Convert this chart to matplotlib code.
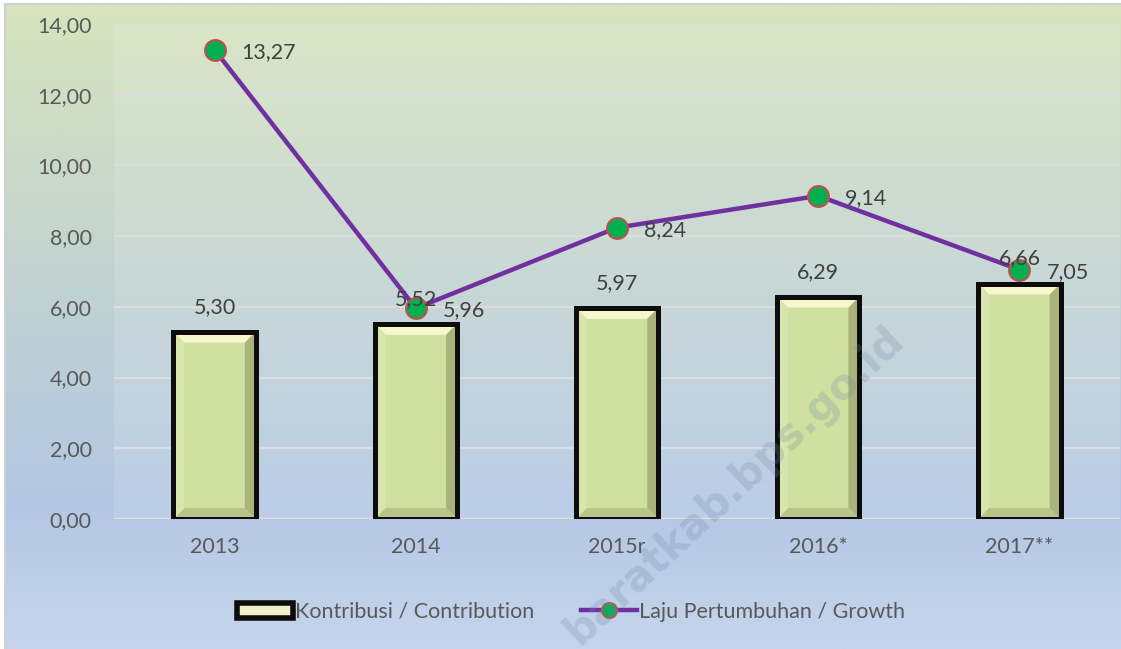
import matplotlib
matplotlib.use("Agg")
import matplotlib.pyplot as plt
import numpy as np
from matplotlib.patches import Polygon, Rectangle
from matplotlib.lines import Line2D
from matplotlib.colors import LinearSegmentedColormap

categories = ["2013", "2014", "2015r", "2016*", "2017**"]
kontribusi = [5.30, 5.52, 5.97, 6.29, 6.66]
laju = [13.27, 5.96, 8.24, 9.14, 7.05]
yticks = [0, 2, 4, 6, 8, 10, 12, 14]

W, H = 1121, 649
FS = 15.5
plt.rcParams['font.family'] = ['Lato', 'DejaVu Sans']
fig = plt.figure(figsize=(W / 100, H / 100), dpi=100)
fig.patch.set_facecolor('white')

# background gradient
bg = fig.add_axes([0, 0, 1, 1], zorder=-10)
bg.set_axis_off()
stops = [(0.0, (215/255, 228/255, 190/255)),
         (0.45, (192/255, 210/255, 210/255)),
         (0.78, (179/255, 199/255, 228/255)),
         (1.0, (198/255, 213/255, 236/255))]
cmap = LinearSegmentedColormap.from_list('bgc', stops)
grad = np.linspace(0, 1, 400).reshape(-1, 1)
bg.imshow(grad, aspect='auto', cmap=cmap, extent=[6/W, 1, 0, 1 - 4/H], origin='upper')
bg.set_xlim(0, 1)
bg.set_ylim(0, 1)
bg.add_patch(Rectangle((5/W, -0.01), 1.02, 1 - 3.5/H + 0.01, fill=False,
                       edgecolor='#d0d0d0', linewidth=1.5))

left, right = 114 / W, 1120 / W
bottom, top = (H - 519) / H, (H - 24) / H
ax = fig.add_axes([left, bottom, right - left, top - bottom])
ax.set_facecolor((1, 1, 1, 0.12))
for s in ax.spines.values():
    s.set_visible(False)

x = np.arange(len(categories))
ax.set_xlim(-0.5, len(categories) - 0.5)
ax.set_ylim(0, 14)
ax.set_yticks(yticks)
ax.set_yticklabels([f"{v:.2f}".replace('.', ',') for v in yticks])
ax.set_xticks(x)
ax.set_xticklabels(categories)
ax.tick_params(axis='both', length=0, labelsize=FS, colors='#595959')
ax.tick_params(axis='y', pad=16)
ax.tick_params(axis='x', pad=13)
ax.grid(axis='y', color='#dcdcdc', linewidth=1.6, zorder=0)
ax.set_axisbelow(True)
ax.axhline(0, color='#e8ddd0', linewidth=1.8, zorder=1)

# bars with bevel
bw = 0.41
pxx = 201.2
pxy = 495 / 14
bx, by = 11 / pxx, 11 / pxy
face = '#cfe0a0'
ax.bar(x, kontribusi, width=bw, color=face, edgecolor='none', zorder=2)
for xi, h in zip(x, kontribusi):
    x0, x1 = xi - bw / 2, xi + bw / 2
    polys = [
        ([(x0, h), (x1, h), (x1 - bx, h - by), (x0 + bx, h - by)], '#f6f8cc'),
        ([(x1, h), (x1, 0), (x1 - bx, by), (x1 - bx, h - by)], '#a9b37a'),
        ([(x0, 0), (x1, 0), (x1 - bx, by), (x0 + bx, by)], '#b9c489'),
        ([(x0, 0), (x0, h), (x0 + bx, h - by), (x0 + bx, by)], '#d8e6ae'),
    ]
    for pts, c in polys:
        ax.add_patch(Polygon(pts, closed=True, facecolor=c, edgecolor='none', zorder=3))
ax.bar(x, kontribusi, width=bw, fill=False, edgecolor='#0d0d0d', linewidth=3.6, zorder=4)

for xi, h in zip(x, kontribusi):
    ax.annotate(f"{h:.2f}".replace('.', ','), (xi, h), xytext=(0, 15), textcoords='offset pixels',
                ha='center', va='bottom', fontsize=FS, color='#404040', zorder=6)

# line
ax.plot(x, laju, color='#7030a0', linewidth=3.2, marker='o', markersize=15,
        markerfacecolor='#00b050', markeredgecolor='#c0504d', markeredgewidth=1.5, zorder=5)
for xi, v in zip(x, laju):
    ax.annotate(f"{v:.2f}".replace('.', ','), (xi, v), xytext=(27, -2), textcoords='offset pixels',
                ha='left', va='center', fontsize=FS, color='#404040', zorder=6)

# legend
bar_handle = Rectangle((0, 0), 1, 1, facecolor='#eef2c4', edgecolor='#0d0d0d', linewidth=4)
line_handle = Line2D([], [], color='#7030a0', linewidth=3.2, marker='o', markersize=11,
                     markerfacecolor='#00b050', markeredgecolor='#c0504d', markeredgewidth=1.3)
fig.legend([bar_handle, line_handle], ["Kontribusi / Contribution", "Laju Pertumbuhan / Growth"],
           loc='center', bbox_to_anchor=(571 / W, (H - 612) / H), ncol=2, frameon=False,
           fontsize=FS, labelcolor='#595959', handlelength=2.6, handleheight=0.75,
           handletextpad=0.1, columnspacing=2.2)

# watermark
fig.text(898 / W, (H - 333) / H, "baratkab.bps.go.id", rotation=43, rotation_mode='anchor',
         ha='right', va='center', fontsize=30, fontweight='bold',
         color=(0.45, 0.53, 0.66), alpha=0.25, family='DejaVu Sans', zorder=20)

fig.savefig('out.png', dpi=100, facecolor=fig.get_facecolor())
